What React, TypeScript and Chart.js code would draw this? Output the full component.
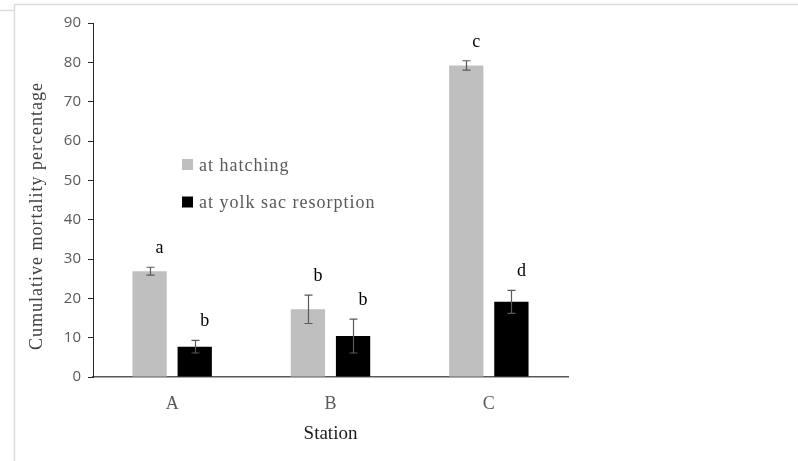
import { useEffect, useRef } from 'react';
import { Chart, registerables } from 'chart.js';

Chart.register(...registerables);

// Stations and cumulative mortality (%) with standard errors
const categories = ['A', 'B', 'C'];
const hatching = [26.9, 17.2, 79.2];
const hatchingErr = [1.0, 3.6, 1.2];
const yolk = [7.7, 10.4, 19.1];
const yolkErr = [1.6, 4.3, 2.9];
// Significance groups printed above each bar
const hatchingLetters = ['a', 'b', 'c'];
const yolkLetters = ['b', 'b', 'd'];
const seriesNames = ['at hatching', 'at yolk sac resorption'];
const yMin = 0;
const yMax = 90;
const yStep = 10;

const SERIF = '"Liberation Serif", "Times New Roman", serif';
const SANS = '"Open Sans", "Noto Sans", sans-serif';

const errors = [hatchingErr, yolkErr];
const letters = [hatchingLetters, yolkLetters];

const decorPlugin = {
  id: 'decor',
  beforeDraw(chart: any) {
    const { ctx, width, height } = chart;
    ctx.save();
    ctx.fillStyle = '#ffffff';
    ctx.fillRect(0, 0, width, height);
    // light page frame
    ctx.strokeStyle = '#dcdcdc';
    ctx.lineWidth = 1.5;
    ctx.beginPath();
    ctx.moveTo(0, 10.5);
    ctx.lineTo(14, 10.5);
    ctx.moveTo(14.5, 4);
    ctx.lineTo(14.5, height);
    ctx.moveTo(14, 4.5);
    ctx.lineTo(width, 4.5);
    ctx.stroke();
    ctx.restore();
  },
  afterDatasetsDraw(chart: any) {
    const { ctx, chartArea } = chart;
    const y = chart.scales.y;
    ctx.save();
    chart.data.datasets.forEach((ds: any, di: number) => {
      const meta = chart.getDatasetMeta(di);
      meta.data.forEach((bar: any, i: number) => {
        const v = ds.data[i];
        const e = errors[di][i];
        const x = Math.round(bar.x) + 0.5;
        const yTop = y.getPixelForValue(v + e);
        const yBot = y.getPixelForValue(v - e);
        ctx.strokeStyle = '#595959';
        ctx.lineWidth = 1.2;
        ctx.beginPath();
        ctx.moveTo(x, yTop);
        ctx.lineTo(x, yBot);
        ctx.moveTo(x - 4, yTop);
        ctx.lineTo(x + 4, yTop);
        ctx.moveTo(x - 4, yBot);
        ctx.lineTo(x + 4, yBot);
        ctx.stroke();
        // group letter
        ctx.fillStyle = '#000000';
        ctx.font = `18px ${SERIF}`;
        ctx.textAlign = 'center';
        ctx.textBaseline = 'alphabetic';
        ctx.fillText(letters[di][i], bar.x + 10, yTop - 14);
      });
    });

    // legend inside the plot area
    const lx = chartArea.left + 89;
    const ly = chartArea.top + 136;
    ctx.letterSpacing = '1px';
    chart.data.datasets.forEach((ds: any, di: number) => {
      const top = ly + di * 37.5;
      ctx.fillStyle = ds.backgroundColor;
      ctx.fillRect(lx, top, 11, 11);
      ctx.fillStyle = '#595959';
      ctx.font = `18px ${SERIF}`;
      ctx.textAlign = 'left';
      ctx.textBaseline = 'alphabetic';
      ctx.fillText(ds.label, lx + 17, top + 11.5);
    });

    // axis titles
    ctx.fillStyle = '#404040';
    ctx.font = `18px ${SERIF}`;
    ctx.textAlign = 'center';
    ctx.textBaseline = 'alphabetic';
    ctx.save();
    ctx.translate(chartArea.left - 51, (chartArea.top + chartArea.bottom) / 2 + 16);
    ctx.rotate(-Math.PI / 2);
    ctx.fillText('Cumulative mortality percentage', 0, 0);
    ctx.restore();
    ctx.letterSpacing = '0px';

    ctx.fillStyle = '#1a1a1a';
    ctx.font = `19px ${SERIF}`;
    ctx.fillText('Station', (chartArea.left + chartArea.right) / 2, chartArea.bottom + 62);
    ctx.restore();
  },
};

export default function App() {
  const ref = useRef<HTMLCanvasElement>(null);

  useEffect(() => {
    const chart = new Chart(ref.current as HTMLCanvasElement, {
      type: 'bar',
      data: {
        labels: categories,
        datasets: [
          {
            label: seriesNames[0],
            data: hatching,
            backgroundColor: '#bfbfbf',
            categoryPercentage: 0.57,
            barPercentage: 0.76,
          },
          {
            label: seriesNames[1],
            data: yolk,
            backgroundColor: '#000000',
            categoryPercentage: 0.57,
            barPercentage: 0.76,
          },
        ],
      },
      options: {
        responsive: false,
        animation: false,
        devicePixelRatio: 1,
        layout: { padding: { left: 0, right: 230, top: 23, bottom: 0 } },
        plugins: {
          legend: { display: false },
          tooltip: { enabled: false },
        },
        scales: {
          x: {
            afterFit: (s: any) => {
              s.height = 84;
            },
            grid: { display: false, drawTicks: false },
            border: { display: true, color: '#595959', width: 1.5 },
            ticks: {
              color: '#595959',
              padding: 16,
              font: { family: SERIF, size: 18 },
            },
          },
          y: {
            min: yMin,
            max: yMax,
            afterFit: (s: any) => {
              s.width = 93;
            },
            grid: {
              drawOnChartArea: false,
              drawTicks: true,
              tickLength: 5,
              color: '#262626',
            },
            border: { display: true, color: '#262626', width: 1 },
            ticks: {
              stepSize: yStep,
              color: '#595959',
              padding: 7,
              font: { family: SANS, size: 15 },
            },
          },
        },
      },
      plugins: [decorPlugin],
    });
    return () => chart.destroy();
  }, []);

  return (
    <div style={{ position: 'fixed', left: 0, top: 0, width: 798, height: 461, background: '#fff' }}>
      <canvas ref={ref} width={798} height={461} style={{ display: 'block', width: 798, height: 461 }} />
    </div>
  );
}
